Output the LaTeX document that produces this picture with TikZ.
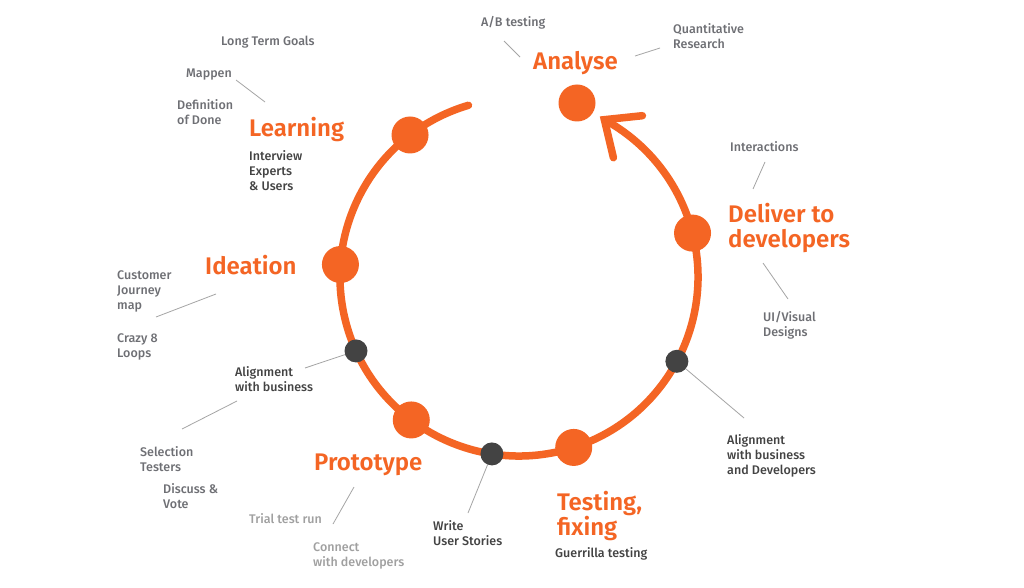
\documentclass[tikz,border=0pt]{standalone}
\usepackage{fontspec}
\setmainfont{Fira Sans}
\newfontfamily\headfont{Fira Sans SemiBold}
\newfontfamily\notefont{Fira Sans Medium}
\definecolor{stageorange}{HTML}{F46524}
\definecolor{notegray}{HTML}{6E6F74}
\definecolor{notedark}{HTML}{434343}
\definecolor{notepale}{HTML}{A0A0A0}
\definecolor{leadgray}{HTML}{A5A5A5}

\begin{document}
\begin{tikzpicture}[x=1pt,y=-1pt,
  stage/.style={anchor=base west,inner sep=0,align=left,text=stageorange,font=\headfont\fontsize{24}{25}\selectfont},
  note/.style={anchor=base west,inner sep=0,align=left,text=notegray,font=\notefont\fontsize{12.5}{15}\selectfont},
  darknote/.style={note,text=notedark},
  palenote/.style={note,text=notepale},
  bigdot/.style={circle,fill=stageorange,minimum size=37pt,inner sep=0},
  smalldot/.style={circle,fill=notedark,minimum size=23pt,inner sep=0},
  leader/.style={draw=leadgray,line width=0.8pt}]
\useasboundingbox[fill=white] (0,0) rectangle (1024,588);
\coordinate (ctr) at (519,277);

% the cycle
\draw[stageorange,line width=7.5pt,line cap=round] (ctr) ++(-106.4:179)
  arc[start angle=-106.4,end angle=-421.5,radius=179] coordinate (tip);
\draw[stageorange,line width=7.5pt,line cap=round] (tip) ++(38,-4) -- (tip) -- ++(9,38);

% leader lines
\foreach \a/\b in {{(504,41)}/{(520,57)},{(635,56)}/{(660,48)},{(236,80)}/{(265,102)},
  {(765,162)}/{(753,189)},{(763,263)}/{(788,299)},{(216,294)}/{(156,317)},
  {(237,401)}/{(182,429)},{(354,487)}/{(333,524)}}
  \draw[leader] \a -- \b;

% stage dots
\foreach \ang/\nm in {-127.5/learndot,-176/ideadot,-233/protodot,-287.8/testdot,-14.2/deliverdot}
  \path (ctr) ++(\ang:179) node[bigdot] (\nm) {};
\node[bigdot] (analysedot) at (577,103) {};
\foreach \ang/\nm in {-204.4/aligndot,-261.3/storydot,-331.9/devdot}
  \path (ctr) ++(\ang:179) node[smalldot] (\nm) {};

\draw[leader] (aligndot) -- (305,368);
\draw[leader] (storydot) -- (468,513);
\draw[leader] (devdot) -- (744,418);

% labels (base = baseline of the last line)
\node[stage] (analyse) at (533,70) {Analyse};
\node[note] (abtest) at (481,27) {A/B testing};
\node[note] (quant) at (673,49) {Quantitative\\Research};
\node[note] (goals) at (221,46) {Long Term Goals};
\node[note] (mappen) at (186,78) {Mappen};
\node[note] (done) at (177,125) {Definition\\of Done};
\node[stage] (learning) at (249,137) {Learning};
\node[darknote] (interview) at (249,190) {Interview\\Experts\\\& Users};
\node[note] (interact) at (730,152) {Interactions};
\node[stage] (deliver) at (728,247) {Deliver to\\developers};
\node[note] (visual) at (763,336) {UI/Visual\\Designs};
\node[darknote] (aligndev) at (727,474) {Alignment\\with business\\and Developers};
\node[stage] (ideation) at (205,274) {Ideation};
\node[note] (journey) at (117,309) {Customer\\Journey\\map};
\node[note] (crazy) at (117,357) {Crazy 8\\Loops};
\node[darknote] (alignbiz) at (235,391) {Alignment\\with business};
\node[note] (select) at (140,471) {Selection\\Testers};
\node[note] (vote) at (163,508) {Discuss \&\\Vote};
\node[stage] (prototype) at (314,470) {Prototype};
\node[palenote] (trial) at (249,523) {Trial test run};
\node[palenote] (connect) at (313,566) {Connect\\with developers};
\node[darknote] (stories) at (433,545) {Write\\User Stories};
\node[stage] (testing) at (557,535) {Testing,\\fixing};
\node[darknote] (guerrilla) at (555,557) {Guerrilla testing};
\end{tikzpicture}
\end{document}
